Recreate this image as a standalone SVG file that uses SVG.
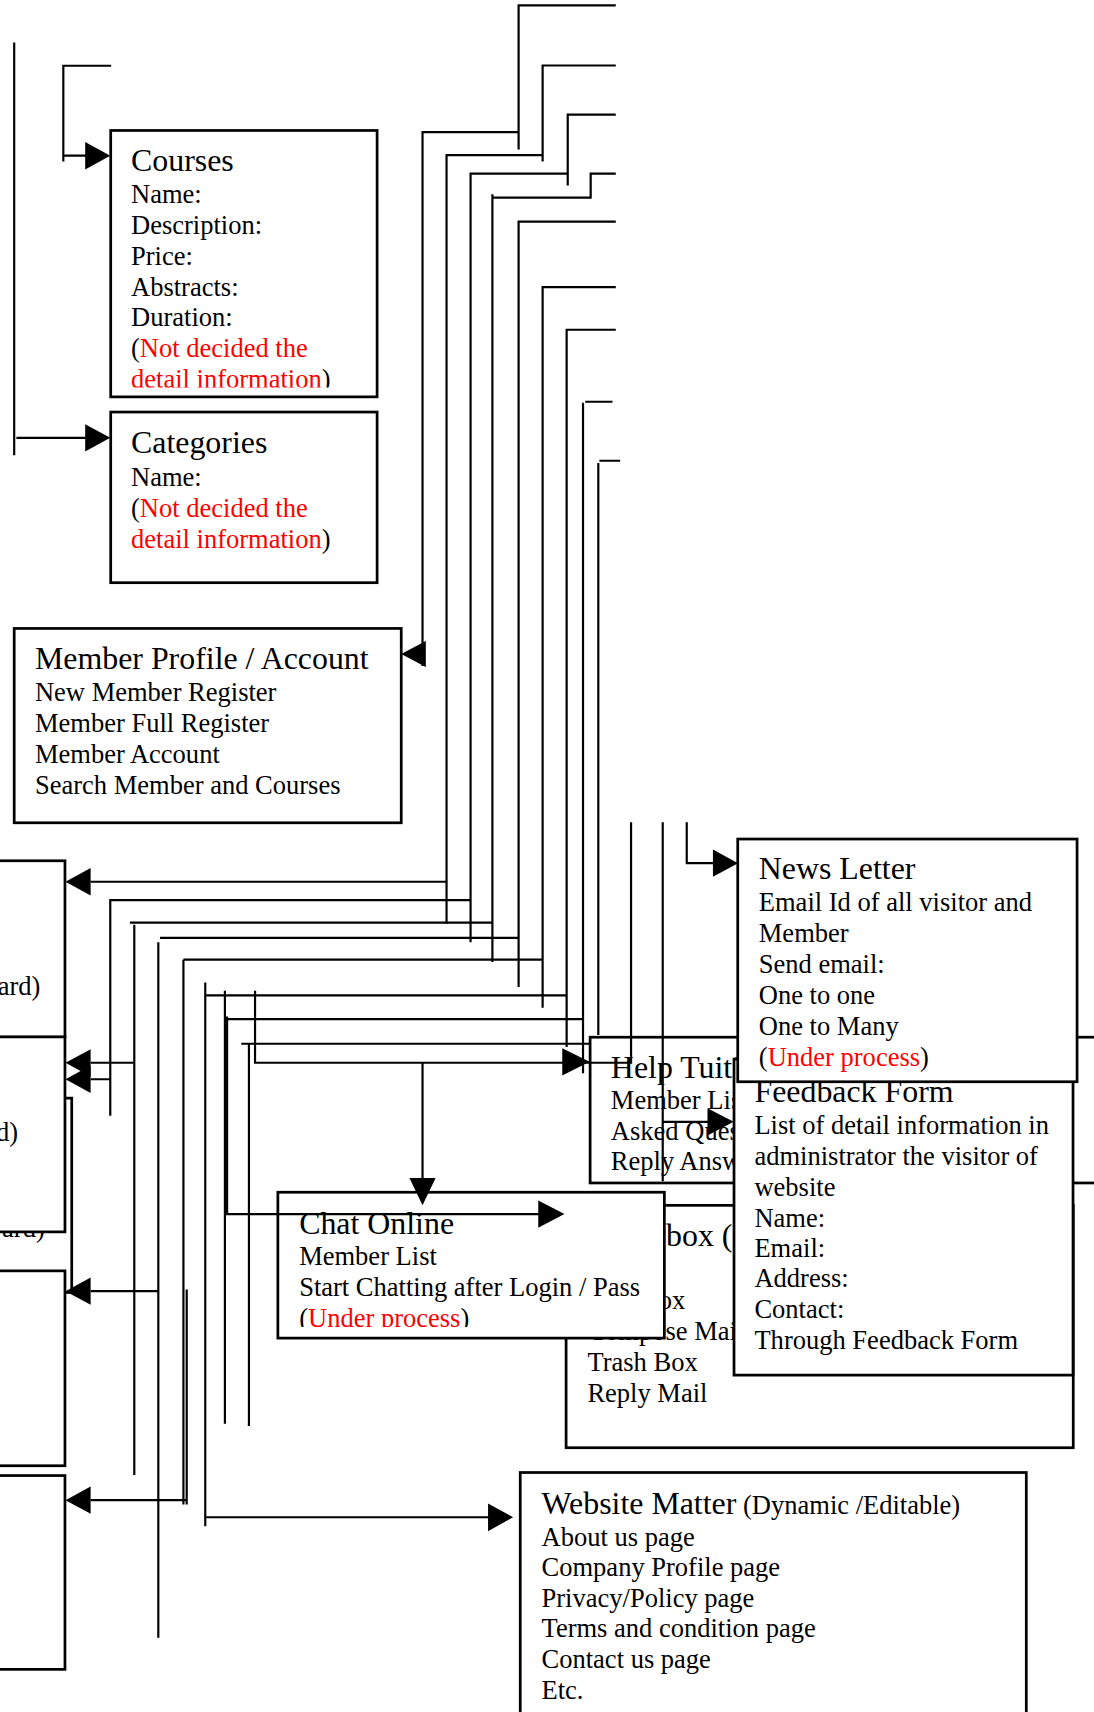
<svg xmlns="http://www.w3.org/2000/svg" width="1094" height="1712" viewBox="0 0 1094 1712">
<style>
.box{fill:#fff;stroke:#000;stroke-width:2.5}
.ln{fill:none;stroke:#000;stroke-width:2}
.ah{fill:#000;stroke:none}
text{font-family:"Liberation Serif","Times New Roman",serif;fill:#000}
.t{font-size:29.2px}
.b{font-size:24.3px}
.r{fill:#ff0000}
</style>
<defs>
<clipPath id="clipCourses"><rect x="101" y="119" width="244" height="236"/></clipPath>
<clipPath id="clipChat"><rect x="255" y="1092" width="354" height="123.5"/></clipPath>
</defs>
<rect x="0" y="0" width="1094" height="1712" fill="#fff"/>
<g transform="scale(1.0918)">
<g id="left-box-2b">
<rect class="box" x="-300" y="1005.8" width="365.7" height="178"/>
<text class="b" x="41" y="1133" text-anchor="end">ard)</text>
</g>
<g id="left-box-2">
<rect class="box" x="-300" y="949.6" width="359.5" height="178.7"/>
<text class="b" x="16.5" y="1045" text-anchor="end">d)</text>
</g>
<g id="left-box-1">
<rect class="box" x="-300" y="788.4" width="359.5" height="161.2"/>
<text class="b" x="37" y="911" text-anchor="end">ard)</text>
</g>
<g id="left-box-3">
<rect class="box" x="-300" y="1164" width="359.5" height="178.5"/>
</g>
<g id="left-box-4">
<rect class="box" x="-300" y="1351.5" width="359.5" height="177.5"/>
</g>
<g id="courses">
<rect class="box" x="101.4" y="119.5" width="244" height="244"/>
<g clip-path="url(#clipCourses)">
<text class="t" x="120" y="156.8">Courses</text>
<text class="b" x="120" y="186">Name:</text>
<text class="b" x="120" y="214.4">Description:</text>
<text class="b" x="120" y="242.5">Price:</text>
<text class="b" x="120" y="270.9">Abstracts:</text>
<text class="b" x="120" y="299">Duration:</text>
<text class="b" x="120" y="327.4">(<tspan class="r">Not decided the</tspan></text>
<text class="b" x="120" y="355.6"><tspan class="r">detail information</tspan>)</text>
</g>
</g>
<g id="categories">
<rect class="box" x="101.4" y="377.4" width="244" height="156.3"/>
<text class="t" x="120" y="415">Categories</text>
<text class="b" x="120" y="445">Name:</text>
<text class="b" x="120" y="473.4">(<tspan class="r">Not decided the</tspan></text>
<text class="b" x="120" y="501.5"><tspan class="r">detail information</tspan>)</text>
</g>
<g id="member-profile">
<rect class="box" x="13" y="575.6" width="354.5" height="178"/>
<text class="t" x="32" y="612.8">Member Profile / Account</text>
<text class="b" x="32" y="641.8">New Member Register</text>
<text class="b" x="32" y="670.2">Member Full Register</text>
<text class="b" x="32" y="698.9">Member Account</text>
<text class="b" x="32" y="727.3">Search Member and Courses</text>
</g>
<g id="help-tuition">
<rect class="box" x="540.5" y="950" width="600" height="133.5"/>
<text class="t" x="559.5" y="987.5">Help Tuition</text>
<text class="b" x="559.5" y="1016.2">Member List</text>
<text class="b" x="559.5" y="1044">Asked Question</text>
<text class="b" x="559.5" y="1071.6">Reply Answer</text>
</g>
<g id="mail-box">
<rect class="box" x="518.5" y="1104" width="464.5" height="222"/>
<text class="t" x="533" y="1141">Email box (</text>
<text class="b" x="538" y="1198.5">Sent Box</text>
<text class="b" x="538" y="1227">Compose Mail</text>
<text class="b" x="538" y="1255.5">Trash Box</text>
<text class="b" x="538" y="1284">Reply Mail</text>
</g>
<g id="feedback-form">
<rect class="box" x="672.3" y="970" width="310.5" height="289.5"/>
<text class="t" x="691" y="1009.5">Feedback Form</text>
<text class="b" x="691" y="1038.6">List of detail information in</text>
<text class="b" x="691" y="1066.6">administrator the visitor of</text>
<text class="b" x="691" y="1095.2">website</text>
<text class="b" x="691" y="1123.6">Name:</text>
<text class="b" x="691" y="1151.6">Email:</text>
<text class="b" x="691" y="1179.2">Address:</text>
<text class="b" x="691" y="1207.1">Contact:</text>
<text class="b" x="691" y="1235.6">Through Feedback Form</text>
</g>
<g id="news-letter">
<rect class="box" x="675.7" y="768.5" width="310.8" height="222.3"/>
<text class="t" x="695" y="805.2">News Letter</text>
<text class="b" x="695" y="834.1">Email Id of all visitor and</text>
<text class="b" x="695" y="863.2">Member</text>
<text class="b" x="695" y="891.6">Send email:</text>
<text class="b" x="695" y="919.6">One to one</text>
<text class="b" x="695" y="948">One to Many</text>
<text class="b" x="695" y="976.2">(<tspan class="r">Under process</tspan>)</text>
</g>
<g id="chat-online">
<rect class="box" x="254.5" y="1092" width="354" height="133.6"/>
<g clip-path="url(#clipChat)">
<text class="t" x="274" y="1130.3">Chat Online</text>
<text class="b" x="274" y="1158.4">Member List</text>
<text class="b" x="274" y="1186.8">Start Chatting after Login / Pass</text>
<text class="b" x="274" y="1215.2">(<tspan class="r">Under process</tspan>)</text>
</g>
</g>
<g id="website-matter">
<rect class="box" x="476.5" y="1348.7" width="463.5" height="300"/>
<text x="496" y="1386.5"><tspan class="t">Website Matter</tspan><tspan class="b"> (Dynamic /Editable)</tspan></text>
<text class="b" x="496" y="1416">About us page</text>
<text class="b" x="496" y="1443.6">Company Profile page</text>
<text class="b" x="496" y="1471.6">Privacy/Policy page</text>
<text class="b" x="496" y="1499.6">Terms and condition page</text>
<text class="b" x="496" y="1527.6">Contact us page</text>
<text class="b" x="496" y="1556.2">Etc.</text>
</g>
<g id="connectors">
<path class="ln" d="M13,39 V417 M15,401 H79"/>
<path class="ln" d="M101.8,60.2 H58 V148 M58,142.6 H79"/>
<path class="ln" d="M564,5 H475 V137 M475,121 H387 V610"/>
<path class="ln" d="M564,60 H497 V148 M497,142 H409 V846"/>
<path class="ln" d="M564,105 H520 V170 M520,159 H431 V863"/>
<path class="ln" d="M564,159 H541 V181 H452 M451,178 V881"/>
<path class="ln" d="M564,203 H475 V904"/>
<path class="ln" d="M564,263 H497 V923"/>
<path class="ln" d="M564,302 H519 V959"/>
<path class="ln" d="M561,368 H536 M534,369 V983"/>
<path class="ln" d="M568,422 H549 M548,424 V948"/>
<path class="ln" d="M83,807.6 H409"/>
<path class="ln" d="M101,1022 V824.5 H431 M83,988.5 H101"/>
<path class="ln" d="M119,845 H451 M123,847 V1351 M83,973.4 H123"/>
<path class="ln" d="M146.6,859 H475 M145,863 V1500 M83,1182.6 H145"/>
<path class="ln" d="M168,879 H497 M168,879 V1378 M171,1181 V1378 M83,1374 H171"/>
<path class="ln" d="M188,900 V1398 M188,911.6 H519 M188,1389.7 H448"/>
<path class="ln" d="M206,907.5 V1304 M208,931 V1113 M208,933.5 H534 M208,1112 H494"/>
<path class="ln" d="M221,956 H540 M228,956 V1306"/>
<path class="ln" d="M233.6,907.5 V973.4 H578 V753 M387,972.5 V1080"/>
<path class="ln" d="M607,753 V1082 M607,1027.5 H649"/>
<path class="ln" d="M629,753 V790.6 H654"/>
<polygon class="ah" points="101,142.6 78,130 78,155.2"/>
<polygon class="ah" points="101,401 78,388.5 78,413.5"/>
<polygon class="ah" points="367.5,599 390,587 390,611"/>
<polygon class="ah" points="60,807.6 83,795 83,820.2"/>
<polygon class="ah" points="60,973.4 83,961 83,986"/>
<polygon class="ah" points="60,988.5 83,976 83,1001"/>
<polygon class="ah" points="60,1182.6 83,1170 83,1195"/>
<polygon class="ah" points="60,1374 83,1361.5 83,1386.5"/>
<polygon class="ah" points="676,790.6 653,778 653,803"/>
<polygon class="ah" points="540,972.5 515,960 515,985"/>
<polygon class="ah" points="672,1027.5 648,1015 648,1040"/>
<polygon class="ah" points="387,1103.8 375,1079 399,1079"/>
<polygon class="ah" points="517,1112 493,1099.5 493,1124.5"/>
<polygon class="ah" points="470,1389.7 447,1377 447,1402.4"/>
</g>
</g>
</svg>
